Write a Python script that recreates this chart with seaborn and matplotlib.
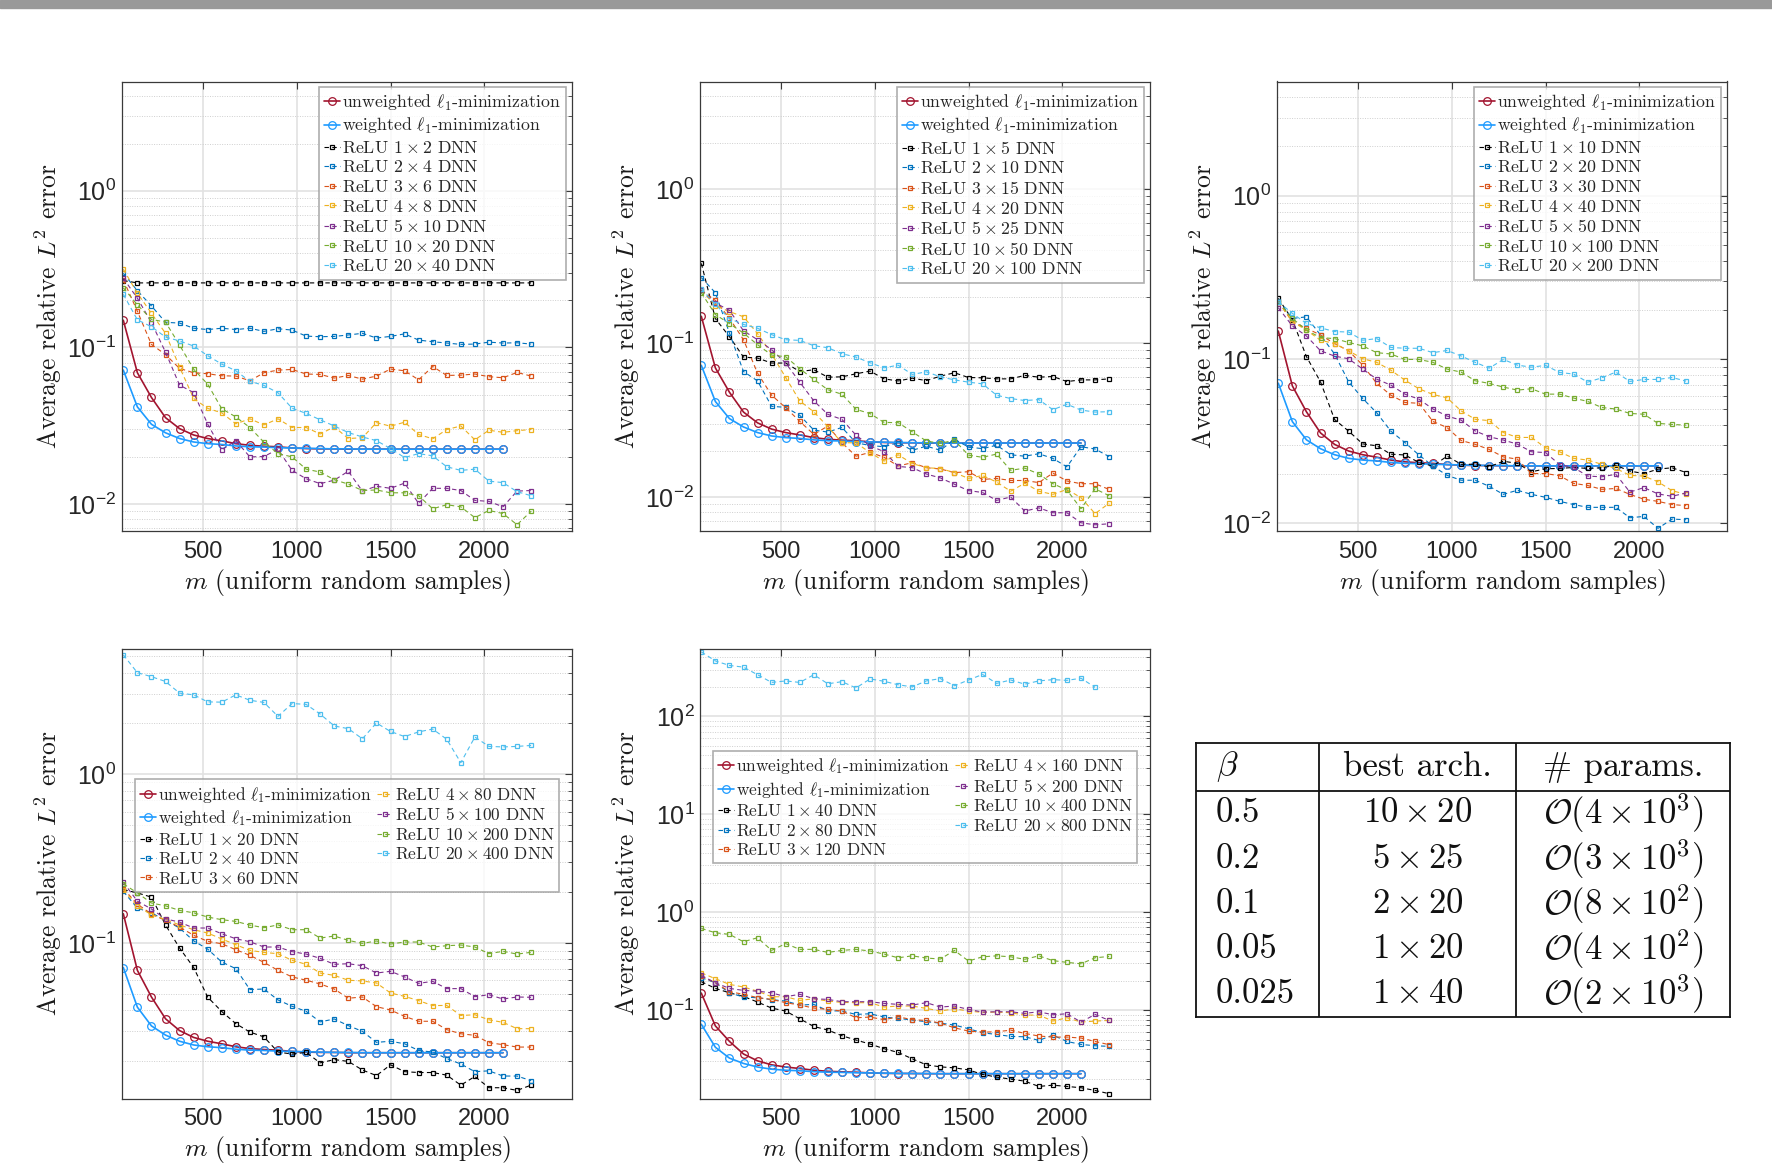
import numpy as np
import pandas as pd
import seaborn as sns
import matplotlib
matplotlib.use('Agg')
import matplotlib.pyplot as plt
from matplotlib.patches import Rectangle
from matplotlib.ticker import LogLocator, NullFormatter

# number of samples (shared x axis)
m = [75, 150, 225, 300, 375, 450, 525, 600, 675, 750, 825, 900, 975, 1050, 1125,
     1200, 1275, 1350, 1425, 1500, 1575, 1650, 1725, 1800, 1875, 1950, 2025, 2100, 2175, 2250]

# l1 minimization (same in all panels, 28 points)
l1_unw = [0.149, 0.0689, 0.0479, 0.0356, 0.0303, 0.0276, 0.0262, 0.0253, 0.0243, 0.0237, 0.0234, 0.0232,
          0.0228, 0.0226, 0.0225, 0.0225, 0.0224, 0.0224, 0.0224, 0.0224, 0.0224, 0.0224, 0.0224, 0.0224,
          0.0224, 0.0224, 0.0224, 0.0224]
l1_w = [0.0716, 0.0417, 0.0323, 0.0285, 0.0262, 0.0249, 0.0243, 0.0240, 0.0235, 0.0232, 0.0231, 0.0229,
        0.0228, 0.0227, 0.0226, 0.0225, 0.0225, 0.0224, 0.0224, 0.0224, 0.0224, 0.0224, 0.0224, 0.0224,
        0.0224, 0.0224, 0.0224, 0.0224]

# beta = 0.5
b1_a1 = [0.267, 0.258, 0.258, 0.258, 0.258, 0.258, 0.258, 0.258, 0.258, 0.258, 0.258, 0.258, 0.258, 0.258, 0.258,
         0.258, 0.258, 0.258, 0.258, 0.258, 0.258, 0.258, 0.258, 0.258, 0.258, 0.258, 0.258, 0.258, 0.258, 0.258]
b1_a2 = [0.297, 0.23, 0.184, 0.1445, 0.143, 0.1325, 0.130, 0.1325, 0.130, 0.1325, 0.1265, 0.1315, 0.129, 0.118, 0.117,
         0.1175, 0.120, 0.123, 0.1148, 0.1175, 0.122, 0.1113, 0.1087, 0.1066, 0.1045, 0.105, 0.108, 0.1066, 0.107, 0.105]
b1_a3 = [0.27, 0.17, 0.1045, 0.090, 0.0734, 0.0689, 0.0679, 0.0659, 0.0656, 0.0612, 0.0689, 0.0716, 0.0723, 0.0676, 0.0672,
         0.0637, 0.0662, 0.0627, 0.0656, 0.0727, 0.0709, 0.0621, 0.0755, 0.0662, 0.0665, 0.0676, 0.065, 0.064, 0.0692, 0.0656]
b1_a4 = [0.315, 0.222, 0.165, 0.123, 0.075, 0.0472, 0.0408, 0.0382, 0.0325, 0.035, 0.032, 0.035, 0.0308, 0.0308, 0.028,
         0.0311, 0.0262, 0.0265, 0.0331, 0.0314, 0.0333, 0.0278, 0.0261, 0.0299, 0.0315, 0.0257, 0.0296, 0.0287, 0.0294, 0.0299]
b1_a5 = [0.276, 0.206, 0.144, 0.0933, 0.0574, 0.0515, 0.0324, 0.0222, 0.0254, 0.020, 0.0201, 0.0224, 0.0164, 0.0145, 0.0135,
         0.0142, 0.0162, 0.0121, 0.0130, 0.0126, 0.0136, 0.0101, 0.0126, 0.0126, 0.0122, 0.01055, 0.0104, 0.0096, 0.0121, 0.0122]
b1_a6 = [0.24, 0.187, 0.151, 0.145, 0.1035, 0.0726, 0.0582, 0.0406, 0.036, 0.0308, 0.0248, 0.021, 0.020, 0.0167, 0.016,
         0.0143, 0.0134, 0.0122, 0.0123, 0.0118, 0.0118, 0.0113, 0.00933, 0.0099, 0.0096, 0.00819, 0.0091, 0.0087, 0.00738, 0.0090]
b1_a7 = [0.218, 0.150, 0.1355, 0.1164, 0.1099, 0.102, 0.0885, 0.0782, 0.0709, 0.0607, 0.0572, 0.0513, 0.0409, 0.0379, 0.0345,
         0.0315, 0.0286, 0.0268, 0.0254, 0.0226, 0.0198, 0.0210, 0.0203, 0.0173, 0.0164, 0.0167, 0.0140, 0.0137, 0.0120, 0.0113]

# beta = 0.2
b2_a1 = [0.329, 0.144, 0.11, 0.081, 0.0798, 0.0741, 0.0741, 0.0653, 0.067, 0.060, 0.0603, 0.0631, 0.0657, 0.0585, 0.0567,
         0.0591, 0.057, 0.0609, 0.0641, 0.0597, 0.0594, 0.0585, 0.0585, 0.0616, 0.060, 0.0606, 0.0562, 0.0576, 0.0576, 0.0585]
b2_a2 = [0.266, 0.212, 0.116, 0.0653, 0.0567, 0.0388, 0.0382, 0.0339, 0.0272, 0.0264, 0.0283, 0.0225, 0.0216, 0.0212, 0.0225,
         0.0201, 0.0214, 0.0201, 0.0237, 0.0211, 0.0206, 0.0217, 0.0188, 0.0184, 0.0191, 0.0178, 0.0157, 0.0212, 0.0205, 0.0183]
b2_a3 = [0.22, 0.189, 0.145, 0.105, 0.0637, 0.0458, 0.038, 0.031, 0.0255, 0.0289, 0.0225, 0.0184, 0.0195, 0.0181, 0.0159,
         0.0167, 0.0155, 0.0152, 0.0144, 0.0146, 0.0130, 0.0132, 0.0128, 0.0128, 0.0124, 0.0143, 0.0127, 0.0122, 0.0122, 0.0112]
b2_a4 = [0.22, 0.175, 0.16, 0.148, 0.115, 0.085, 0.0597, 0.0421, 0.0357, 0.0286, 0.0225, 0.0225, 0.0194, 0.0171, 0.0188,
         0.0165, 0.0155, 0.0153, 0.0144, 0.0132, 0.0138, 0.0125, 0.0109, 0.0123, 0.0109, 0.0104, 0.0112, 0.0099, 0.0078, 0.0091]
b2_a5 = [0.22, 0.182, 0.163, 0.12, 0.105, 0.0905, 0.0741, 0.0557, 0.0421, 0.0344, 0.0319, 0.0252, 0.0215, 0.0197, 0.0158,
         0.0155, 0.0141, 0.0133, 0.0121, 0.0110, 0.0107, 0.0095, 0.0100, 0.0081, 0.0085, 0.0079, 0.0079, 0.0068, 0.0066, 0.0067]
b2_a6 = [0.212, 0.153, 0.1337, 0.116, 0.0975, 0.0835, 0.0814, 0.0681, 0.058, 0.0497, 0.0465, 0.0371, 0.0348, 0.0305, 0.0304,
         0.0265, 0.0231, 0.0223, 0.0234, 0.0187, 0.0181, 0.0190, 0.0149, 0.0154, 0.0141, 0.0122, 0.0111, 0.0084, 0.0113, 0.0102]
b2_a7 = [0.225, 0.178, 0.144, 0.132, 0.1247, 0.1133, 0.105, 0.104, 0.096, 0.0932, 0.0852, 0.081, 0.0744, 0.069, 0.0718,
         0.0625, 0.065, 0.0603, 0.0576, 0.0557, 0.0543, 0.0458, 0.0436, 0.0423, 0.0429, 0.0369, 0.040, 0.0367, 0.0356, 0.0358]

# beta = 0.1
b3_a1 = [0.236, 0.175, 0.104, 0.073, 0.043, 0.0365, 0.0305, 0.0297, 0.0264, 0.0261, 0.0235, 0.0223, 0.0257, 0.0229, 0.0229,
         0.0221, 0.0239, 0.0232, 0.0206, 0.0215, 0.0216, 0.0219, 0.0216, 0.0218, 0.0226, 0.0208, 0.0201, 0.0214, 0.0218, 0.0204]
b3_a2 = [0.228, 0.178, 0.182, 0.141, 0.108, 0.073, 0.0578, 0.0472, 0.0365, 0.0311, 0.0261, 0.0223, 0.0196, 0.0183, 0.0183,
         0.0168, 0.0150, 0.0159, 0.0150, 0.0144, 0.0136, 0.0130, 0.0125, 0.0125, 0.0125, 0.0108, 0.0110, 0.0093, 0.0106, 0.0105]
b3_a3 = [0.225, 0.17, 0.155, 0.141, 0.125, 0.113, 0.0923, 0.0714, 0.0605, 0.0546, 0.054, 0.0418, 0.0384, 0.032, 0.0303,
         0.0282, 0.0254, 0.0246, 0.0201, 0.0201, 0.0195, 0.0175, 0.017, 0.0161, 0.0163, 0.015, 0.014, 0.0136, 0.013, 0.0128]
b3_a4 = [0.225, 0.17, 0.151, 0.131, 0.125, 0.113, 0.101, 0.096, 0.086, 0.0748, 0.0662, 0.0611, 0.0583, 0.0485, 0.0431,
         0.0423, 0.0358, 0.0334, 0.0334, 0.0289, 0.0273, 0.0249, 0.0243, 0.0229, 0.0216, 0.0196, 0.0194, 0.0179, 0.0158, 0.015]
b3_a5 = [0.207, 0.16, 0.139, 0.113, 0.1048, 0.101, 0.0873, 0.0758, 0.0697, 0.0614, 0.0572, 0.0498, 0.0451, 0.0426, 0.0366,
         0.0337, 0.0322, 0.0304, 0.0273, 0.027, 0.0228, 0.0219, 0.0194, 0.0192, 0.0199, 0.0155, 0.0165, 0.0151, 0.0146, 0.0153]
b3_a6 = [0.225, 0.178, 0.151, 0.136, 0.134, 0.127, 0.121, 0.110, 0.108, 0.100, 0.100, 0.096, 0.0873, 0.0837, 0.0741,
         0.0714, 0.0678, 0.065, 0.0662, 0.0614, 0.0614, 0.0581, 0.0554, 0.0509, 0.0498, 0.0468, 0.0463, 0.0407, 0.0401, 0.0397]
b3_a7 = [0.225, 0.191, 0.166, 0.156, 0.148, 0.147, 0.131, 0.134, 0.1184, 0.117, 0.117, 0.110, 0.1135, 0.105, 0.096,
         0.0885, 0.100, 0.0923, 0.0897, 0.092, 0.0833, 0.0814, 0.0727, 0.0772, 0.0837, 0.0734, 0.0755, 0.0755, 0.0776, 0.0737]

# beta = 0.05
b4_a1 = [0.207, 0.198, 0.187, 0.128, 0.0934, 0.0717, 0.0478, 0.0393, 0.0333, 0.0297, 0.0278, 0.0226, 0.022, 0.0225, 0.0195,
         0.0204, 0.0199, 0.0177, 0.0164, 0.019, 0.0173, 0.0171, 0.0171, 0.0165, 0.0144, 0.0162, 0.0139, 0.0139, 0.0134, 0.0144]
b4_a2 = [0.202, 0.161, 0.151, 0.136, 0.1227, 0.103, 0.092, 0.0772, 0.0705, 0.053, 0.0534, 0.046, 0.0422, 0.0394, 0.0341,
         0.0355, 0.0324, 0.030, 0.0258, 0.0262, 0.0253, 0.0231, 0.0226, 0.0207, 0.0192, 0.0173, 0.0175, 0.0163, 0.0163, 0.0153]
b4_a3 = [0.21, 0.17, 0.1485, 0.136, 0.1244, 0.1111, 0.1023, 0.099, 0.0913, 0.0845, 0.0768, 0.0689, 0.063, 0.0602, 0.0572,
         0.0534, 0.0471, 0.0479, 0.042, 0.0401, 0.0368, 0.0344, 0.0344, 0.0307, 0.029, 0.0284, 0.0257, 0.025, 0.0242, 0.0242]
b4_a4 = [0.207, 0.165, 0.147, 0.138, 0.128, 0.1199, 0.1146, 0.1057, 0.0977, 0.0905, 0.088, 0.0864, 0.079, 0.0748, 0.0664,
         0.0643, 0.0602, 0.0596, 0.058, 0.0506, 0.0483, 0.0456, 0.0426, 0.0427, 0.0372, 0.0376, 0.0351, 0.0339, 0.0311, 0.0311]
b4_a5 = [0.229, 0.177, 0.159, 0.139, 0.133, 0.1227, 0.1227, 0.1135, 0.106, 0.1018, 0.0947, 0.0947, 0.0889, 0.086, 0.0811,
         0.0748, 0.0754, 0.0734, 0.0664, 0.068, 0.063, 0.0577, 0.0593, 0.0537, 0.0537, 0.0481, 0.0494, 0.0466, 0.0479, 0.0477]
b4_a6 = [0.224, 0.198, 0.1725, 0.166, 0.156, 0.151, 0.1425, 0.1375, 0.1343, 0.1277, 0.1232, 0.128, 0.1199, 0.1199, 0.107,
         0.110, 0.1037, 0.0995, 0.1028, 0.0986, 0.1014, 0.1014, 0.0947, 0.0964, 0.0973, 0.0947, 0.0865, 0.0893, 0.086, 0.0881]
b4_a7 = [5.09, 3.99, 3.78, 3.54, 3.02, 2.95, 2.68, 2.67, 2.95, 2.74, 2.66, 2.20, 2.62, 2.59, 2.27,
         1.93, 1.86, 1.62, 2.01, 1.79, 1.67, 1.78, 1.85, 1.61, 1.17, 1.66, 1.46, 1.45, 1.46, 1.48]

# beta = 0.025
b5_a1 = [0.195, 0.1665, 0.150, 0.138, 0.1207, 0.1048, 0.0977, 0.0815, 0.068, 0.0625, 0.0547, 0.0494, 0.045, 0.0403, 0.0369,
         0.0318, 0.0276, 0.0263, 0.0257, 0.0245, 0.022, 0.0207, 0.0197, 0.0188, 0.0166, 0.0171, 0.0166, 0.0161, 0.0151, 0.014]
b5_a2 = [0.214, 0.19, 0.15, 0.1358, 0.1336, 0.1277, 0.1236, 0.1125, 0.1143, 0.0985, 0.0977, 0.0903, 0.0917, 0.0848, 0.0822,
         0.0791, 0.076, 0.0736, 0.0703, 0.0645, 0.0586, 0.0564, 0.0538, 0.0534, 0.049, 0.0554, 0.0478, 0.0446, 0.0432, 0.0426]
b5_a3 = [0.222, 0.19, 0.154, 0.145, 0.134, 0.1285, 0.119, 0.1125, 0.1048, 0.1016, 0.0977, 0.0835, 0.0848, 0.0797, 0.0855,
         0.0797, 0.0784, 0.0736, 0.0659, 0.061, 0.0596, 0.060, 0.0624, 0.0578, 0.0543, 0.053, 0.053, 0.0518, 0.0478, 0.0443]
b5_a4 = [0.240, 0.209, 0.183, 0.172, 0.156, 0.1368, 0.1368, 0.1255, 0.1305, 0.1236, 0.1197, 0.119, 0.119, 0.1074, 0.110,
         0.110, 0.104, 0.0977, 0.103, 0.0977, 0.0947, 0.0954, 0.0939, 0.0889, 0.0889, 0.0772, 0.0835, 0.0754, 0.0772, 0.0784]
b5_a5 = [0.226, 0.19, 0.1665, 0.1588, 0.156, 0.150, 0.1368, 0.145, 0.1305, 0.1285, 0.1217, 0.1217, 0.1217, 0.117, 0.1143,
         0.1125, 0.119, 0.1074, 0.110, 0.1016, 0.0954, 0.0961, 0.0961, 0.0925, 0.0961, 0.0896, 0.0917, 0.0754, 0.0903, 0.0784]
b5_a6 = [0.682, 0.616, 0.593, 0.499, 0.548, 0.407, 0.477, 0.417, 0.417, 0.388, 0.407, 0.417, 0.401, 0.373, 0.342,
         0.358, 0.340, 0.332, 0.407, 0.317, 0.350, 0.358, 0.350, 0.330, 0.358, 0.320, 0.307, 0.297, 0.342, 0.353]
b5_a7 = [455, 368, 331, 318, 266, 222, 230, 222, 266, 215, 226, 195, 241, 228, 210,
         200, 230, 243, 205, 235, 268, 217, 235, 213, 230, 237, 233, 245, 198]

arch1 = ['1 \\times 2', '2 \\times 4', '3 \\times 6', '4 \\times 8', '5 \\times 10', '10 \\times 20', '20 \\times 40']
arch2 = ['1 \\times 5', '2 \\times 10', '3 \\times 15', '4 \\times 20', '5 \\times 25', '10 \\times 50', '20 \\times 100']
arch3 = ['1 \\times 10', '2 \\times 20', '3 \\times 30', '4 \\times 40', '5 \\times 50', '10 \\times 100', '20 \\times 200']
arch4 = ['1 \\times 20', '2 \\times 40', '3 \\times 60', '4 \\times 80', '5 \\times 100', '10 \\times 200', '20 \\times 400']
arch5 = ['1 \\times 40', '2 \\times 80', '3 \\times 120', '4 \\times 160', '5 \\times 200', '10 \\times 400', '20 \\times 800']

# table
betas = ['0.5', '0.2', '0.1', '0.05', '0.025']
best_arch = [r'$10\times 20$', r'$5\times 25$', r'$2\times 20$', r'$1\times 20$', r'$1\times 40$']
n_params = [r'$\mathcal{O}(4\times 10^3)$', r'$\mathcal{O}(3\times 10^3)$', r'$\mathcal{O}(8\times 10^2)$',
            r'$\mathcal{O}(4\times 10^2)$', r'$\mathcal{O}(2\times 10^3)$']

dnn_colors = ['#000000', '#0072BD', '#D95319', '#EDB120', '#7E2F8E', '#77AC30', '#4DBEEE']
c_unw = '#A2142F'
c_w = '#1E9BFF'

sns.set_style('white')
plt.rcParams.update({
    'font.family': ['Liberation Sans', 'DejaVu Sans'],
    'mathtext.fontset': 'cm',
    'axes.unicode_minus': False,
})

W, H = 1772, 1164
fig = plt.figure(figsize=(W / 100, H / 100), dpi=100)
fig.patches.append(Rectangle((0, 1 - 8 / H), 1, 8 / H, transform=fig.transFigure,
                             color='#999999', zorder=0))

panels = [
    dict(box=(122, 81.5), ylim=(0.00668, 4.98), ser=[b1_a1, b1_a2, b1_a3, b1_a4, b1_a5, b1_a6, b1_a7], arch=arch1, leg=1),
    dict(box=(700, 81.5), ylim=(0.00597, 4.99), ser=[b2_a1, b2_a2, b2_a3, b2_a4, b2_a5, b2_a6, b2_a7], arch=arch2, leg=1),
    dict(box=(1277, 81.5), ylim=(0.0089, 4.98), ser=[b3_a1, b3_a2, b3_a3, b3_a4, b3_a5, b3_a6, b3_a7], arch=arch3, leg=1),
    dict(box=(122, 648.5), ylim=(0.0120, 5.55), ser=[b4_a1, b4_a2, b4_a3, b4_a4, b4_a5, b4_a6, b4_a7], arch=arch4, leg=(0.029, 0.709)),
    dict(box=(700, 648.5), ylim=(0.0125, 493), ser=[b5_a1, b5_a2, b5_a3, b5_a4, b5_a5, b5_a6, b5_a7], arch=arch5, leg=(0.029, 0.772)),
]

edge = '#3a3a3a'
lab_prop = dict(fontfamily='cmr10', fontsize=18.4, color='#1a1a1a')

for p in panels:
    x0, y0 = p['box']
    ax = fig.add_axes([x0 / W, 1 - (y0 + 450) / H, 450 / W, 450 / H])
    ax.set_yscale('log')

    sns.lineplot(x=m[:len(l1_unw)], y=l1_unw, ax=ax, color=c_unw, linewidth=1.2, marker='o', markersize=5.5,
                 markerfacecolor='none', markeredgecolor=c_unw, markeredgewidth=0.9,
                 label=r'unweighted $\ell_1$-minimization', errorbar=None)
    sns.lineplot(x=m[:len(l1_w)], y=l1_w, ax=ax, color=c_w, linewidth=1.2, marker='o', markersize=5.5,
                 markerfacecolor='none', markeredgecolor=c_w, markeredgewidth=0.9,
                 label=r'weighted $\ell_1$-minimization', errorbar=None)
    for y, a, c in zip(p['ser'], p['arch'], dnn_colors):
        sns.lineplot(x=m[:len(y)], y=y, ax=ax, color=c, linewidth=0.8, linestyle=(0, (4, 3)), marker='s',
                     markersize=3.5, markerfacecolor='none', markeredgecolor=c, markeredgewidth=0.9,
                     label='ReLU $' + a + '$ DNN', errorbar=None)

    ax.set_xlim(68, 2468)
    ax.set_ylim(*p['ylim'])
    ax.set_xticks([500, 1000, 1500, 2000])
    ax.yaxis.set_minor_locator(LogLocator(base=10, subs=np.arange(2, 10), numticks=100))
    ax.yaxis.set_minor_formatter(NullFormatter())
    ax.grid(True, which='major', color='#e2e2e2', linewidth=1.2, linestyle='-')
    ax.grid(True, which='minor', axis='y', color='#cfcfcf', linewidth=0.7, linestyle=(0, (1, 1.5)))
    ax.set_axisbelow(True)
    for s in ax.spines.values():
        s.set_color(edge)
        s.set_linewidth(0.9)
    ax.tick_params(which='both', direction='in', top=True, right=True, color=edge,
                   labelsize=17, labelcolor='#262626')
    ax.tick_params(axis='y', labelsize=18)
    ax.tick_params(which='major', length=5)
    ax.tick_params(which='minor', length=3)
    ax.tick_params(axis='x', pad=7)
    ax.tick_params(axis='y', pad=4)

    ax.set_xlabel(r'$m$ (uniform random samples)', **lab_prop)
    ax.set_ylabel(r'Average relative $L^2$ error', **lab_prop)
    ax.xaxis.set_label_coords(0.5, -0.079)
    ax.yaxis.set_label_coords(-0.128, 0.5)

    common = dict(handlelength=0.9, handletextpad=0.12, borderpad=0.3, borderaxespad=0,
                  frameon=True, fancybox=False)
    if p['leg'] == 1:
        leg = ax.legend(loc='upper right', bbox_to_anchor=(0.987, 0.987), ncol=1,
                        prop={'family': 'cmr10', 'size': 12.8}, labelspacing=0.2, **common)
    else:
        leg = ax.legend(loc='upper left', bbox_to_anchor=p['leg'], ncol=2, columnspacing=0.3,
                        prop={'family': 'cmr10', 'size': 12.5}, labelspacing=0.2, **common)
    leg.get_frame().set_edgecolor('#9a9a9a')
    leg.get_frame().set_linewidth(1.2)

# table of best architectures
tx0, ty0, tw, th = 1196, 742.5, 534, 274.5
axt = fig.add_axes([tx0 / W, 1 - (ty0 + th) / H, tw / W, th / H])
axt.set_xlim(0, 1)
axt.set_ylim(0, 1)
axt.set_xticks([])
axt.set_yticks([])
for s in axt.spines.values():
    s.set_color('#111111')
    s.set_linewidth(1.3)
head_y = 1 - 48.5 / th
col1, col2 = 123 / tw, 320 / tw
axt.axhline(head_y, color='#111111', lw=1.3)
axt.axvline(col1, color='#111111', lw=1.3)
axt.axvline(col2, color='#111111', lw=1.3)

tfont = dict(fontfamily='cmr10', fontsize=25, color='#111111', va='center')
axt.text(0.037, (1 + head_y) / 2, r'$\beta$', ha='left', **tfont)
axt.text((col1 + col2) / 2, (1 + head_y) / 2, 'best arch.', ha='center', **tfont)
axt.text((col2 + 1) / 2, (1 + head_y) / 2, '# params.', ha='center', **tfont)
for i, (b, a, n) in enumerate(zip(betas, best_arch, n_params)):
    yc = head_y * (1 - (i + 0.5) / len(betas))
    axt.text(0.037, yc, b, ha='left', **tfont)
    axt.text((col1 + col2) / 2, yc, a, ha='center', **tfont)
    axt.text((col2 + 1) / 2, yc, n, ha='center', **tfont)

fig.savefig('out.png', dpi=100)
